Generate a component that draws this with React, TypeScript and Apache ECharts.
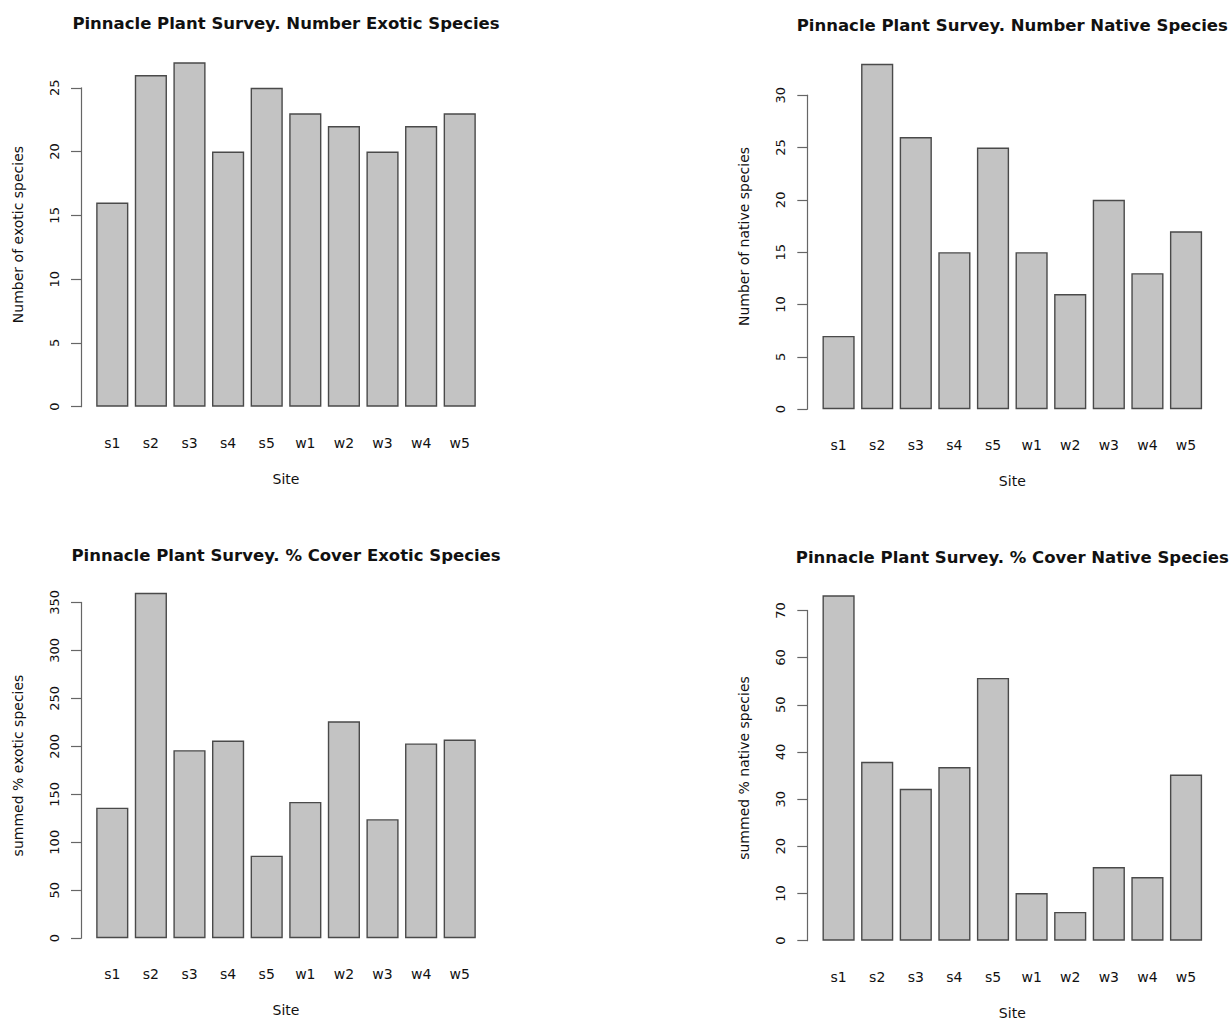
import React, { useEffect, useRef } from "react";
import * as echarts from "echarts";

// ---------- data ----------
const sites = ["s1", "s2", "s3", "s4", "s5", "w1", "w2", "w3", "w4", "w5"];

const exoticCount = [16, 26, 27, 20, 25, 23, 22, 20, 22, 23];
const nativeCount = [7, 33, 26, 15, 25, 15, 11, 20, 13, 17];
const exoticCover = [136, 360, 196, 206, 86, 142, 226, 124, 203, 207];
const nativeCover = [73.2, 37.9, 32.2, 36.8, 55.7, 10.1, 6.1, 15.6, 13.5, 35.2];

const exoticCountTicks = [0, 5, 10, 15, 20, 25];
const nativeCountTicks = [0, 5, 10, 15, 20, 25, 30];
const exoticCoverTicks = [0, 50, 100, 150, 200, 250, 300, 350];
const nativeCoverTicks = [0, 10, 20, 30, 40, 50, 60, 70];

const titles = [
  "Pinnacle Plant Survey. Number Exotic Species",
  "Pinnacle Plant Survey. Number Native Species",
  "Pinnacle Plant Survey. % Cover Exotic Species",
  "Pinnacle Plant Survey. % Cover Native Species",
];
const yNames = [
  "Number of exotic species",
  "Number of native species",
  "summed % exotic species",
  "summed % native species",
];
const xName = "Site";

// ---------- layout (plot regions, px) ----------
const regions = [
  { left: 81, top: 48.5, width: 410, height: 372, titleY: 23 },
  { left: 807.3, top: 50, width: 410, height: 373, titleY: 25 },
  { left: 81, top: 579, width: 410, height: 373, titleY: 555 },
  { left: 807.3, top: 581.5, width: 410, height: 373, titleY: 556.5 },
];

const FONT = "DejaVu Sans";
const TEXT = "#111111";

function buildOption() {
  const panels = [
    { values: exoticCount, ticks: exoticCountTicks },
    { values: nativeCount, ticks: nativeCountTicks },
    { values: exoticCover, ticks: exoticCoverTicks },
    { values: nativeCover, ticks: nativeCoverTicks },
  ];
  const grid: any[] = [];
  const xAxis: any[] = [];
  const yAxis: any[] = [];
  const series: any[] = [];
  const title: any[] = [];

  panels.forEach((p, i) => {
    const r = regions[i];
    const n = p.values.length;
    const M = Math.max(...p.values);
    const usrMin = -0.04 * M;
    const usrMax = 1.04 * M;
    const yRange = usrMax - usrMin;
    // R barplot x geometry: width 1, space 0.2
    const span = n * 1.2 - 0.2;
    const xUsrMin = 0.2 - 0.04 * span;
    const xUsrMax = n * 1.2 + 0.04 * span;
    const unit = r.width / (xUsrMax - xUsrMin);
    const dataLeft = r.left + (0.1 - xUsrMin) * unit;
    const dataWidth = n * 1.2 * unit;

    // data grid
    const gi = grid.length;
    grid.push({
      left: dataLeft,
      top: r.top,
      width: dataWidth,
      height: r.height,
      containLabel: false,
      outerBoundsMode: "none",
    });
    xAxis.push({
      type: "category",
      gridIndex: gi,
      data: sites,
      boundaryGap: true,
      axisLine: { show: false },
      axisTick: { show: false },
      axisLabel: { margin: 15, fontFamily: FONT, fontSize: 14, color: TEXT },
      name: xName,
      nameLocation: "middle",
      nameGap: 51,
      nameTextStyle: { fontFamily: FONT, fontSize: 14, color: TEXT },
    });
    const yi = yAxis.length;
    yAxis.push({
      type: "value",
      gridIndex: gi,
      min: usrMin,
      max: usrMax,
      axisLine: { show: false },
      axisTick: { show: false },
      axisLabel: { show: false },
      splitLine: { show: false },
      name: yNames[i],
      nameLocation: "middle",
      nameGap: dataLeft - r.left + 56,
      nameTextStyle: { fontFamily: FONT, fontSize: 14, color: TEXT },
    });
    series.push({
      type: "bar",
      xAxisIndex: xAxis.length - 1,
      yAxisIndex: yi,
      data: p.values,
      barWidth: unit,
      itemStyle: { color: "#c3c3c3", borderColor: "#4a4a4a", borderWidth: 1.4 },
      emphasis: { disabled: true },
      silent: true,
    });

    // axis grid: spans tick range only (like R's axis())
    const topTick = p.ticks[p.ticks.length - 1];
    const step = p.ticks[1] - p.ticks[0];
    const agTop = r.top + ((usrMax - topTick) / yRange) * r.height;
    const agHeight = ((topTick - p.ticks[0]) / yRange) * r.height;
    const ag = grid.length;
    grid.push({
      left: r.left,
      top: agTop,
      width: 1,
      height: agHeight,
      containLabel: false,
      outerBoundsMode: "none",
    });
    xAxis.push({ type: "value", gridIndex: ag, show: false, min: 0, max: 1 });
    yAxis.push({
      type: "value",
      gridIndex: ag,
      min: p.ticks[0],
      max: topTick,
      interval: step,
      axisLine: { show: true, lineStyle: { color: "#666666", width: 1.2 } },
      axisTick: { show: true, length: 10, lineStyle: { color: "#666666", width: 1.2 } },
      axisLabel: {
        rotate: 90,
        margin: 20,
        fontFamily: FONT,
        fontSize: 13,
        color: TEXT,
        showMinLabel: true,
        showMaxLabel: true,
      },
      splitLine: { show: false },
    });

    title.push({
      text: titles[i],
      left: r.left + r.width / 2,
      top: r.titleY - 8,
      textAlign: "center",
      padding: 0,
      textStyle: { fontFamily: FONT, fontSize: 16.5, fontWeight: "bold", color: TEXT },
    });
  });

  return {
    animation: false,
    backgroundColor: "#ffffff",
    title,
    grid,
    xAxis,
    yAxis,
    series,
  };
}

export default function App() {
  const ref = useRef<HTMLDivElement>(null);
  useEffect(() => {
    if (!ref.current) return;
    const chart = echarts.init(ref.current, undefined, { renderer: "svg" });
    chart.setOption(buildOption());
    return () => chart.dispose();
  }, []);
  return (
    <div
      ref={ref}
      style={{ position: "fixed", left: 0, top: 0, width: 1230, height: 1021, background: "#fff" }}
    />
  );
}
